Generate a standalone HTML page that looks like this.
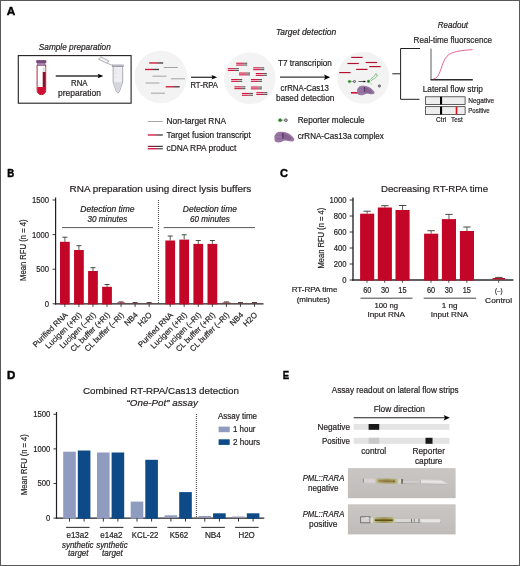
<!DOCTYPE html>
<html lang="en"><head><meta charset="utf-8"><title>Figure</title>
<style>
html,body{margin:0;padding:0;background:#fff;}
body{width:520px;height:566px;overflow:hidden;}
svg{display:block;font-family:"Liberation Sans",sans-serif;}
text{fill:#231f20;stroke:#231f20;stroke-width:0.2px;}
</style></head><body>
<svg width="520" height="566" viewBox="0 0 520 566">
<defs>
<linearGradient id="gT" x1="0" x2="1" y1="0" y2="0"><stop offset="0" stop-color="#d4143f"/><stop offset="0.4" stop-color="#d4143f"/><stop offset="0.7" stop-color="#5a3a42"/><stop offset="1" stop-color="#3c3c3c"/></linearGradient>
<linearGradient id="gC1" x1="0" x2="1" y1="0" y2="0"><stop offset="0" stop-color="#8e1030"/><stop offset="0.45" stop-color="#6a1a2c"/><stop offset="0.7" stop-color="#3a3034"/><stop offset="1" stop-color="#2e2e2e"/></linearGradient>
<linearGradient id="gC2" x1="0" x2="1" y1="0" y2="0"><stop offset="0" stop-color="#d4143f"/><stop offset="0.5" stop-color="#d4143f"/><stop offset="0.75" stop-color="#6a5a5e"/><stop offset="1" stop-color="#4a4a4a"/></linearGradient>
</defs>
<rect x="0" y="0" width="520" height="566" fill="#fff"/>
<rect x="0.5" y="0.5" width="519" height="565" fill="none" stroke="#585858" stroke-width="1"/>

<text x="6.8" y="15.3" font-size="11.6" font-weight="bold" textLength="8.5" lengthAdjust="spacingAndGlyphs" fill="#000" style="fill:#000;stroke:#000;stroke-width:0.4px">A</text>
<text x="7.3" y="177.2" font-size="11.6" font-weight="bold" textLength="6.9" lengthAdjust="spacingAndGlyphs" fill="#000" style="fill:#000;stroke:#000;stroke-width:0.5px">B</text>
<text x="280.1" y="177" font-size="11.6" font-weight="bold" textLength="8" lengthAdjust="spacingAndGlyphs" fill="#000" style="fill:#000;stroke:#000;stroke-width:0.4px">C</text>
<text x="7" y="378.9" font-size="11.6" font-weight="bold" textLength="8.3" lengthAdjust="spacingAndGlyphs" fill="#000" style="fill:#000;stroke:#000;stroke-width:0.45px">D</text>
<text x="282.7" y="379" font-size="11.6" font-weight="bold" textLength="6.4" lengthAdjust="spacingAndGlyphs" fill="#000" style="fill:#000;stroke:#000;stroke-width:0.35px">E</text>
<g id="panelA">
<text x="38.8" y="50.3" font-size="8.4" font-style="italic" textLength="72" lengthAdjust="spacingAndGlyphs" >Sample preparation</text>
<rect x="18.3" y="55.6" width="112.8" height="47.6" fill="#fff" stroke="#231f20" stroke-width="1.1"/>
<g>
<path d="M37.1 65 V90.4 a4.3 4.3 0 0 0 8.6 0 V65 Z" fill="#fff" stroke="#a3122e" stroke-width="0.9"/>
<rect x="42.7" y="67" width="2.7" height="5" fill="#e6dfe4"/>
<path d="M42.7 72 H45.4 V90 H42.7 Z" fill="#8e1028"/>
<path d="M37.4 87 H45.4 V90.4 a4 4 0 0 1 -8 0 Z" fill="#cf1030"/>
<rect x="36.3" y="60.1" width="10" height="3" fill="#7a4a7c"/>
<rect x="37.2" y="63" width="8.1" height="2.6" fill="#8d6292"/>
<rect x="38.2" y="63.6" width="6.1" height="0.9" fill="#c3aecb"/>
</g>
<line x1="55.7" y1="76" x2="99.5" y2="76" stroke="#333" stroke-width="1.3" />
<path d="M103.4 76 L97.6 73.7 L98.8 76 L97.6 78.3 Z" fill="#000"/>
<text x="79.3" y="86" font-size="8.4" text-anchor="middle" textLength="16.6" lengthAdjust="spacingAndGlyphs" >RNA</text>
<text x="79.5" y="95.6" font-size="8.4" text-anchor="middle" textLength="42.8" lengthAdjust="spacingAndGlyphs" >preparation</text>
<g stroke="#8e8e9a" stroke-width="0.7" fill="#ededf2">
<path d="M113.1 66.3 V82 L116.4 91.6 Q117.9 94.4 119.4 91.6 L122.7 82 V66.3 Z"/>
<path d="M113.6 82.3 L116.6 91.3 Q117.9 93.6 119.2 91.3 L122.2 82.3 Z" fill="#d6d6de" stroke="none"/>
<path d="M114.3 70 H116.3 M114.3 73.5 H116.3 M114.3 77 H116.3" stroke="#c4c4cc" stroke-width="0.4" fill="none"/>
<rect x="112.5" y="65" width="10.8" height="1.4" fill="#d2d2da"/>
<path d="M112.6 65.4 L107.3 63.3" fill="none"/>
<path d="M107.3 63.4 L98.5 59.2 L100.9 56.9 L108.7 60.8 Z" fill="#f3f3f6"/>
</g>
<circle cx="160.8" cy="77" r="26.3" fill="#f3f3f3"/>
<rect x="149.2" y="62.3" width="14" height="1.35" fill="url(#gT)" />
<line x1="163.7" y1="67.5" x2="177.7" y2="67.5" stroke="#9a9a9a" stroke-width="0.9" />
<rect x="145" y="68.8" width="14" height="1.35" fill="url(#gT)" />
<line x1="152.5" y1="76.2" x2="166.5" y2="76.2" stroke="#9a9a9a" stroke-width="0.9" />
<line x1="171" y1="78.8" x2="185" y2="78.8" stroke="#9a9a9a" stroke-width="0.9" />
<line x1="145.5" y1="83" x2="159.5" y2="83" stroke="#9a9a9a" stroke-width="0.9" />
<rect x="165.7" y="86.1" width="14" height="1.35" fill="url(#gT)" />
<line x1="151" y1="93.2" x2="165" y2="93.2" stroke="#9a9a9a" stroke-width="0.9" />
<line x1="191" y1="77.3" x2="213.5" y2="77.3" stroke="#333" stroke-width="1.3" />
<path d="M217.2 77.3 L211.4 75 L212.6 77.3 L211.4 79.6 Z" fill="#000"/>
<text x="204.2" y="88.3" font-size="8.4" text-anchor="middle" textLength="27.5" lengthAdjust="spacingAndGlyphs" >RT-RPA</text>
<line x1="147.8" y1="121.5" x2="162.8" y2="121.5" stroke="#9a9a9a" stroke-width="0.9" />
<rect x="147.8" y="134.3" width="15" height="1.35" fill="url(#gT)" />
<rect x="147.8" y="145.8" width="15" height="1.15" fill="url(#gC1)" />
<rect x="147.8" y="148.05" width="15" height="1.35" fill="url(#gC2)" />
<text x="166.5" y="124.4" font-size="8.4" textLength="59.5" lengthAdjust="spacingAndGlyphs" >Non-target RNA</text>
<text x="166.5" y="137.6" font-size="8.4" textLength="84.3" lengthAdjust="spacingAndGlyphs" >Target fusion transcript</text>
<text x="166.5" y="150.7" font-size="8.4" textLength="69.8" lengthAdjust="spacingAndGlyphs" >cDNA RPA product</text>
<circle cx="249.8" cy="78.3" r="25.8" fill="#f3f3f3"/>
<rect x="236.2" y="62.7" width="11" height="1.1" fill="url(#gC2)" />
<rect x="236.2" y="64.5" width="11" height="1.1" fill="url(#gC2)" />
<rect x="227.8" y="68.1" width="11" height="1.1" fill="url(#gC2)" />
<rect x="227.8" y="69.9" width="11" height="1.1" fill="url(#gC2)" />
<rect x="253.2" y="67.3" width="11" height="1.1" fill="url(#gC2)" />
<rect x="253.2" y="69.1" width="11" height="1.1" fill="url(#gC2)" />
<rect x="239" y="72.5" width="11" height="1.1" fill="url(#gC2)" />
<rect x="239" y="74.3" width="11" height="1.1" fill="url(#gC2)" />
<rect x="255.8" y="73.0" width="11" height="1.1" fill="url(#gC2)" />
<rect x="255.8" y="74.8" width="11" height="1.1" fill="url(#gC2)" />
<rect x="231.2" y="79.0" width="11" height="1.1" fill="url(#gC2)" />
<rect x="231.2" y="80.8" width="11" height="1.1" fill="url(#gC2)" />
<rect x="250.9" y="79.0" width="11" height="1.1" fill="url(#gC2)" />
<rect x="250.9" y="80.8" width="11" height="1.1" fill="url(#gC2)" />
<rect x="234.4" y="86.3" width="11" height="1.1" fill="url(#gC2)" />
<rect x="234.4" y="88.1" width="11" height="1.1" fill="url(#gC2)" />
<rect x="250.9" y="86.5" width="11" height="1.1" fill="url(#gC2)" />
<rect x="250.9" y="88.3" width="11" height="1.1" fill="url(#gC2)" />
<rect x="241.9" y="92.9" width="11" height="1.1" fill="url(#gC2)" />
<rect x="241.9" y="94.7" width="11" height="1.1" fill="url(#gC2)" />
<rect x="256.3" y="92.1" width="11" height="1.1" fill="url(#gC2)" />
<rect x="256.3" y="93.9" width="11" height="1.1" fill="url(#gC2)" />
<text x="275.9" y="35.3" font-size="8.4" font-style="italic" textLength="60.3" lengthAdjust="spacingAndGlyphs" >Target detection</text>
<text x="304.9" y="66.1" font-size="8.4" text-anchor="middle" textLength="53.7" lengthAdjust="spacingAndGlyphs" >T7 transcripion</text>
<line x1="280" y1="77.2" x2="326" y2="77.2" stroke="#333" stroke-width="1.3" />
<path d="M330.2 77.2 L323.9 74.5 L325.3 77.2 L323.9 79.9 Z" fill="#000"/>
<text x="304.8" y="91.2" font-size="8.4" text-anchor="middle" textLength="48.4" lengthAdjust="spacingAndGlyphs" >crRNA-Cas13</text>
<text x="305.2" y="100.7" font-size="8.4" text-anchor="middle" textLength="58.3" lengthAdjust="spacingAndGlyphs" >based detection</text>
<circle cx="363.3" cy="77.7" r="26" fill="#f3f3f3"/>
<line x1="351.2" y1="57.4" x2="362.59999999999997" y2="57.4" stroke="#b3102f" stroke-width="1.15" />
<line x1="347.4" y1="63.5" x2="358.79999999999995" y2="63.5" stroke="#b3102f" stroke-width="1.15" />
<line x1="365.7" y1="62.5" x2="377.09999999999997" y2="62.5" stroke="#b3102f" stroke-width="1.15" />
<line x1="369.2" y1="66.6" x2="380.59999999999997" y2="66.6" stroke="#b3102f" stroke-width="1.15" />
<line x1="356.1" y1="69.4" x2="367.5" y2="69.4" stroke="#b3102f" stroke-width="1.15" />
<line x1="339.2" y1="72.6" x2="350.59999999999997" y2="72.6" stroke="#b3102f" stroke-width="1.15" />
<line x1="349.5" y1="81.5" x2="354.5" y2="81.5" stroke="#555" stroke-width="0.5" />
<circle cx="349.5" cy="81.5" r="1.305" fill="#2c762c" stroke="#5cb552" stroke-width="0.5"/>
<circle cx="354.5" cy="81.5" r="1.08" fill="#c9c9c9" stroke="#3c3c3c" stroke-width="0.75"/>
<line x1="358.5" y1="81.5" x2="364.5" y2="81.5" stroke="#231f20" stroke-width="0.7" />
<path d="M366 81.5 L363.6 80.4 L363.6 82.6 Z" fill="#000"/>
<circle cx="368.5" cy="81.3" r="1.35" fill="#2c762c" stroke="#5cb552" stroke-width="0.5"/>
<path d="M370.3 79.7 C371.5 77.6 372.9 77.9 374 76.3 C375 75 375.5 74.6 375.9 73.5 L377.5 76 M370.9 81 C372.5 78.9 374.1 79.5 375.3 77.7 C376.1 76.5 376.8 76.8 377.5 76 M370.4 83 L371.6 84.2" fill="none" stroke="#3c9a3c" stroke-width="0.6"/>
<circle cx="379.4" cy="86" r="1.15" fill="#9a9a9a" stroke="#4c4c4c" stroke-width="0.7"/>
<line x1="350.9" y1="92.8" x2="361" y2="92.8" stroke="#d0103a" stroke-width="1.6" />
<g transform="translate(357 85.8) scale(0.88)"><path d="M0 5.4 C0.3 2.5 2.8 0 5.2 0 C7 0 8.5 0.1 9.8 0.2 C12 0.6 13.5 1.2 14.5 1.9 C16.5 3.2 18 4.6 18.5 5.4 C19.6 6.6 20.2 7.3 20 7.7 C19.8 9 18.9 9.6 17.9 9.7 C15 9.9 13 8.8 11 8.9 C9 9 8 10.4 6.4 10.6 C4.5 10.8 3 10.8 1.8 10.3 C0.6 9.6 0 8 0.3 7.7 Z" fill="#9977a5"/><path d="M7.2 1.6 C10 1.2 13.5 2.6 16.5 5.6 C17.6 7 17 8.2 15.4 8.4 C12.5 8.2 10 7.4 8.4 7.6 C7.4 5.6 7.6 3.4 7.2 1.6 Z" fill="#86628f"/><path d="M8.4 1.4 C8.9 3.4 8.7 5.2 8.3 6.8" fill="none" stroke="#4e2d5e" stroke-width="1.1"/><path d="M2.2 4.2 C4.4 2.8 6.6 3 8 4.2 M2.4 7.4 C4.5 6.6 6.8 6.8 8.2 7.6" fill="none" stroke="#7a5787" stroke-width="0.5"/></g>
<line x1="280.1" y1="120.2" x2="285.90000000000003" y2="120.2" stroke="#555" stroke-width="0.5" />
<circle cx="280.1" cy="120.2" r="1.6674999999999998" fill="#2c762c" stroke="#5cb552" stroke-width="0.5"/>
<circle cx="285.90000000000003" cy="120.2" r="1.38" fill="#c9c9c9" stroke="#3c3c3c" stroke-width="0.75"/>
<text x="297.7" y="122.6" font-size="8.4" textLength="66.9" lengthAdjust="spacingAndGlyphs" >Reporter molecule</text>
<g transform="translate(274.3 131.7) scale(1)"><path d="M0 5.4 C0.3 2.5 2.8 0 5.2 0 C7 0 8.5 0.1 9.8 0.2 C12 0.6 13.5 1.2 14.5 1.9 C16.5 3.2 18 4.6 18.5 5.4 C19.6 6.6 20.2 7.3 20 7.7 C19.8 9 18.9 9.6 17.9 9.7 C15 9.9 13 8.8 11 8.9 C9 9 8 10.4 6.4 10.6 C4.5 10.8 3 10.8 1.8 10.3 C0.6 9.6 0 8 0.3 7.7 Z" fill="#9977a5"/><path d="M7.2 1.6 C10 1.2 13.5 2.6 16.5 5.6 C17.6 7 17 8.2 15.4 8.4 C12.5 8.2 10 7.4 8.4 7.6 C7.4 5.6 7.6 3.4 7.2 1.6 Z" fill="#86628f"/><path d="M8.4 1.4 C8.9 3.4 8.7 5.2 8.3 6.8" fill="none" stroke="#4e2d5e" stroke-width="1.1"/><path d="M2.2 4.2 C4.4 2.8 6.6 3 8 4.2 M2.4 7.4 C4.5 6.6 6.8 6.8 8.2 7.6" fill="none" stroke="#7a5787" stroke-width="0.5"/></g>
<text x="297.7" y="139.4" font-size="8.4" textLength="86" lengthAdjust="spacingAndGlyphs" >crRNA-Cas13a complex</text>
<text x="437.8" y="28.1" font-size="8.4" font-style="italic" textLength="30.3" lengthAdjust="spacingAndGlyphs" >Readout</text>
<text x="413.6" y="43.2" font-size="8.6" textLength="78.4" lengthAdjust="spacingAndGlyphs" >Real-time fluorscence</text>
<path d="M392.3 73.8 H400.6 M420 48.5 H400.6 V99.3 H419.5" fill="none" stroke="#231f20" stroke-width="1"/>
<line x1="431" y1="48.6" x2="431" y2="80" stroke="#333" stroke-width="0.8" />
<line x1="430.6" y1="79.7" x2="472.8" y2="79.7" stroke="#2a2a2a" stroke-width="1.6" />
<path d="M433 79.2 C441 78.6 441 62 447 56.2 C452 51 462 50.6 472.6 49.6" fill="none" stroke="#dc3f72" stroke-width="0.8"/>
<text x="422.7" y="91.9" font-size="8.6" textLength="60.2" lengthAdjust="spacingAndGlyphs" >Lateral flow strip</text>
<rect x="425.6" y="96.8" width="39.5" height="7.7" fill="#eeeeee" stroke="#231f20" stroke-width="0.7"/>
<rect x="440" y="96.8" width="2.1" height="7.7" fill="#000" />
<rect x="425.6" y="106.7" width="39.5" height="7.7" fill="#eeeeee" stroke="#231f20" stroke-width="0.7"/>
<rect x="440" y="106.7" width="2.1" height="7.7" fill="#000" />
<rect x="455.7" y="106.7" width="1.7" height="7.7" fill="#e0141e" />
<text x="468.2" y="102.7" font-size="7.6" textLength="26" lengthAdjust="spacingAndGlyphs" >Negative</text>
<text x="468.2" y="112.5" font-size="7.6" textLength="21.6" lengthAdjust="spacingAndGlyphs" >Positive</text>
<text x="436.1" y="121.8" font-size="7.6" textLength="10.2" lengthAdjust="spacingAndGlyphs" >Ctrl</text>
<text x="451" y="121.8" font-size="7.6" textLength="11.7" lengthAdjust="spacingAndGlyphs" >Test</text>
</g>
<g id="panelB">
<text x="69.6" y="191.6" font-size="9.8" textLength="181.6" lengthAdjust="spacingAndGlyphs" >RNA preparation using direct lysis buffers</text>
<text x="0" y="0" font-size="9.3" text-anchor="middle" textLength="61.5" lengthAdjust="spacingAndGlyphs" transform="translate(25.8 250.2) rotate(-90)">Mean RFU (n = 4)</text>
<line x1="55.6" y1="197.5" x2="55.6" y2="304.40000000000003" stroke="#231f20" stroke-width="1.2" />
<line x1="55" y1="303.8" x2="263.5" y2="303.8" stroke="#231f20" stroke-width="1.2" />
<line x1="52.6" y1="303.8" x2="55.6" y2="303.8" stroke="#231f20" stroke-width="0.9" />
<text x="49" y="306.7" font-size="8.6" text-anchor="end" textLength="4.28" lengthAdjust="spacingAndGlyphs" >0</text>
<line x1="52.6" y1="269.2" x2="55.6" y2="269.2" stroke="#231f20" stroke-width="0.9" />
<text x="49" y="272.09999999999997" font-size="8.6" text-anchor="end" textLength="12.84" lengthAdjust="spacingAndGlyphs" >500</text>
<line x1="52.6" y1="234.60000000000002" x2="55.6" y2="234.60000000000002" stroke="#231f20" stroke-width="0.9" />
<text x="49" y="237.50000000000003" font-size="8.6" text-anchor="end" textLength="17.12" lengthAdjust="spacingAndGlyphs" >1000</text>
<line x1="52.6" y1="200.0" x2="55.6" y2="200.0" stroke="#231f20" stroke-width="0.9" />
<text x="49" y="202.9" font-size="8.6" text-anchor="end" textLength="17.12" lengthAdjust="spacingAndGlyphs" >1500</text>
<text x="107.4" y="212.4" font-size="8.2" text-anchor="middle" font-style="italic" textLength="54.2" lengthAdjust="spacingAndGlyphs" >Detection time</text>
<text x="107.4" y="221.8" font-size="8.2" text-anchor="middle" font-style="italic" textLength="39.6" lengthAdjust="spacingAndGlyphs" >30 minutes</text>
<text x="209.9" y="212.4" font-size="8.2" text-anchor="middle" font-style="italic" textLength="54.2" lengthAdjust="spacingAndGlyphs" >Detection time</text>
<text x="209.9" y="221.8" font-size="8.2" text-anchor="middle" font-style="italic" textLength="39.6" lengthAdjust="spacingAndGlyphs" >60 minutes</text>
<line x1="62" y1="227.6" x2="153" y2="227.6" stroke="#444" stroke-width="0.9" />
<line x1="163.7" y1="227.6" x2="255" y2="227.6" stroke="#444" stroke-width="0.9" />
<line x1="158.5" y1="200.1" x2="158.5" y2="303.8" stroke="#4a4a4a" stroke-width="1.1" stroke-dasharray="0.9 1.1"/>
<rect x="60" y="241.8" width="9.75" height="62.60000000000002" fill="#c30527" />
<line x1="64.875" y1="237.2" x2="64.875" y2="241.8" stroke="#33382c" stroke-width="0.8" />
<line x1="62.375" y1="237.2" x2="67.375" y2="237.2" stroke="#33382c" stroke-width="0.9" />
<line x1="64.85" y1="303.8" x2="64.85" y2="307.0" stroke="#231f20" stroke-width="0.8" />
<text x="0" y="0" font-size="7.9" text-anchor="end" transform="translate(68.15 315.50) rotate(-45)">Purified RNA</text>
<rect x="74.05" y="250" width="9.75" height="54.400000000000034" fill="#c30527" />
<line x1="78.925" y1="245.7" x2="78.925" y2="250" stroke="#33382c" stroke-width="0.8" />
<line x1="76.425" y1="245.7" x2="81.425" y2="245.7" stroke="#33382c" stroke-width="0.9" />
<line x1="78.89999999999999" y1="303.8" x2="78.89999999999999" y2="307.0" stroke="#231f20" stroke-width="0.8" />
<text x="0" y="0" font-size="7.9" text-anchor="end" transform="translate(82.20 315.50) rotate(-45)">Lucigen (+RI)</text>
<rect x="88.1" y="271" width="9.75" height="33.400000000000034" fill="#c30527" />
<line x1="92.975" y1="267.7" x2="92.975" y2="271" stroke="#33382c" stroke-width="0.8" />
<line x1="90.475" y1="267.7" x2="95.475" y2="267.7" stroke="#33382c" stroke-width="0.9" />
<line x1="92.94999999999999" y1="303.8" x2="92.94999999999999" y2="307.0" stroke="#231f20" stroke-width="0.8" />
<text x="0" y="0" font-size="7.9" text-anchor="end" transform="translate(96.25 315.50) rotate(-45)">Lucigen (–RI)</text>
<rect x="102.15" y="286.8" width="9.75" height="17.600000000000023" fill="#c30527" />
<line x1="107.025" y1="284.5" x2="107.025" y2="286.8" stroke="#33382c" stroke-width="0.8" />
<line x1="104.525" y1="284.5" x2="109.525" y2="284.5" stroke="#33382c" stroke-width="0.9" />
<line x1="107.0" y1="303.8" x2="107.0" y2="307.0" stroke="#231f20" stroke-width="0.8" />
<text x="0" y="0" font-size="7.9" text-anchor="end" transform="translate(110.30 315.50) rotate(-45)">CL buffer (+RI)</text>
<rect x="117.0" y="302.5" width="8.15" height="0.6999999999999886" fill="#c30527" />
<line x1="121.075" y1="301.9" x2="121.075" y2="302.5" stroke="#33382c" stroke-width="0.8" />
<line x1="118.575" y1="301.9" x2="123.575" y2="301.9" stroke="#33382c" stroke-width="0.9" />
<line x1="121.05" y1="303.8" x2="121.05" y2="307.0" stroke="#231f20" stroke-width="0.8" />
<text x="0" y="0" font-size="7.9" text-anchor="end" transform="translate(124.35 315.50) rotate(-45)">CL buffer (–RI)</text>
<rect x="131.05" y="303" width="8.15" height="0.19999999999998863" fill="#c30527" />
<line x1="135.125" y1="302.5" x2="135.125" y2="303" stroke="#33382c" stroke-width="0.8" />
<line x1="132.625" y1="302.5" x2="137.625" y2="302.5" stroke="#33382c" stroke-width="0.9" />
<line x1="135.1" y1="303.8" x2="135.1" y2="307.0" stroke="#231f20" stroke-width="0.8" />
<text x="0" y="0" font-size="7.9" text-anchor="end" transform="translate(138.40 315.50) rotate(-45)">NB4</text>
<rect x="145.10000000000002" y="303" width="8.15" height="0.19999999999998863" fill="#c30527" />
<line x1="149.175" y1="302.5" x2="149.175" y2="303" stroke="#33382c" stroke-width="0.8" />
<line x1="146.675" y1="302.5" x2="151.675" y2="302.5" stroke="#33382c" stroke-width="0.9" />
<line x1="149.15" y1="303.8" x2="149.15" y2="307.0" stroke="#231f20" stroke-width="0.8" />
<text x="0" y="0" font-size="7.9" text-anchor="end" transform="translate(152.45 315.50) rotate(-45)">H2O</text>
<rect x="165.35" y="240.5" width="9.75" height="63.900000000000034" fill="#c30527" />
<line x1="170.225" y1="236" x2="170.225" y2="240.5" stroke="#33382c" stroke-width="0.8" />
<line x1="167.725" y1="236" x2="172.725" y2="236" stroke="#33382c" stroke-width="0.9" />
<line x1="170.2" y1="303.8" x2="170.2" y2="307.0" stroke="#231f20" stroke-width="0.8" />
<text x="0" y="0" font-size="7.9" text-anchor="end" transform="translate(173.50 315.50) rotate(-45)">Purified RNA</text>
<rect x="179.3" y="239.6" width="9.75" height="64.80000000000004" fill="#c30527" />
<line x1="184.175" y1="234.8" x2="184.175" y2="239.6" stroke="#33382c" stroke-width="0.8" />
<line x1="181.675" y1="234.8" x2="186.675" y2="234.8" stroke="#33382c" stroke-width="0.9" />
<line x1="184.15" y1="303.8" x2="184.15" y2="307.0" stroke="#231f20" stroke-width="0.8" />
<text x="0" y="0" font-size="7.9" text-anchor="end" transform="translate(187.45 315.50) rotate(-45)">Lucigen (+RI)</text>
<rect x="193.4" y="243.9" width="9.75" height="60.50000000000003" fill="#c30527" />
<line x1="198.275" y1="240.5" x2="198.275" y2="243.9" stroke="#33382c" stroke-width="0.8" />
<line x1="195.775" y1="240.5" x2="200.775" y2="240.5" stroke="#33382c" stroke-width="0.9" />
<line x1="198.25" y1="303.8" x2="198.25" y2="307.0" stroke="#231f20" stroke-width="0.8" />
<text x="0" y="0" font-size="7.9" text-anchor="end" transform="translate(201.55 315.50) rotate(-45)">Lucigen (–RI)</text>
<rect x="207.5" y="243.9" width="9.75" height="60.50000000000003" fill="#c30527" />
<line x1="212.375" y1="240.5" x2="212.375" y2="243.9" stroke="#33382c" stroke-width="0.8" />
<line x1="209.875" y1="240.5" x2="214.875" y2="240.5" stroke="#33382c" stroke-width="0.9" />
<line x1="212.35" y1="303.8" x2="212.35" y2="307.0" stroke="#231f20" stroke-width="0.8" />
<text x="0" y="0" font-size="7.9" text-anchor="end" transform="translate(215.65 315.50) rotate(-45)">CL buffer (+RI)</text>
<rect x="222.35000000000002" y="302.5" width="8.15" height="0.6999999999999886" fill="#c30527" />
<line x1="226.425" y1="301.9" x2="226.425" y2="302.5" stroke="#33382c" stroke-width="0.8" />
<line x1="223.925" y1="301.9" x2="228.925" y2="301.9" stroke="#33382c" stroke-width="0.9" />
<line x1="226.4" y1="303.8" x2="226.4" y2="307.0" stroke="#231f20" stroke-width="0.8" />
<text x="0" y="0" font-size="7.9" text-anchor="end" transform="translate(229.70 315.50) rotate(-45)">CL buffer (–RI)</text>
<rect x="236.4" y="303" width="8.15" height="0.19999999999998863" fill="#c30527" />
<line x1="240.475" y1="302.5" x2="240.475" y2="303" stroke="#33382c" stroke-width="0.8" />
<line x1="237.975" y1="302.5" x2="242.975" y2="302.5" stroke="#33382c" stroke-width="0.9" />
<line x1="240.45" y1="303.8" x2="240.45" y2="307.0" stroke="#231f20" stroke-width="0.8" />
<text x="0" y="0" font-size="7.9" text-anchor="end" transform="translate(243.75 315.50) rotate(-45)">NB4</text>
<rect x="250.45000000000002" y="303" width="8.15" height="0.19999999999998863" fill="#c30527" />
<line x1="254.525" y1="302.5" x2="254.525" y2="303" stroke="#33382c" stroke-width="0.8" />
<line x1="252.025" y1="302.5" x2="257.025" y2="302.5" stroke="#33382c" stroke-width="0.9" />
<line x1="254.5" y1="303.8" x2="254.5" y2="307.0" stroke="#231f20" stroke-width="0.8" />
<text x="0" y="0" font-size="7.9" text-anchor="end" transform="translate(257.80 315.50) rotate(-45)">H2O</text>
</g>
<g id="panelC">
<text x="380.9" y="192" font-size="9.8" textLength="107.2" lengthAdjust="spacingAndGlyphs" >Decreasing RT-RPA time</text>
<text x="0" y="0" font-size="9.3" text-anchor="middle" textLength="60.8" lengthAdjust="spacingAndGlyphs" transform="translate(323.5 238.2) rotate(-90)">Mean RFU (n = 4)</text>
<line x1="353" y1="197.5" x2="353" y2="280.7" stroke="#2b2b2b" stroke-width="1.4" />
<line x1="352.3" y1="280" x2="513.4" y2="280" stroke="#2b2b2b" stroke-width="1.4" />
<line x1="349.6" y1="280.0" x2="353" y2="280.0" stroke="#231f20" stroke-width="0.9" />
<text x="346.6" y="282.9" font-size="8.6" text-anchor="end" textLength="4.25" lengthAdjust="spacingAndGlyphs" >0</text>
<line x1="349.6" y1="264.0" x2="353" y2="264.0" stroke="#231f20" stroke-width="0.9" />
<text x="346.6" y="266.9" font-size="8.6" text-anchor="end" textLength="12.75" lengthAdjust="spacingAndGlyphs" >200</text>
<line x1="349.6" y1="248.0" x2="353" y2="248.0" stroke="#231f20" stroke-width="0.9" />
<text x="346.6" y="250.9" font-size="8.6" text-anchor="end" textLength="12.75" lengthAdjust="spacingAndGlyphs" >400</text>
<line x1="349.6" y1="232.0" x2="353" y2="232.0" stroke="#231f20" stroke-width="0.9" />
<text x="346.6" y="234.9" font-size="8.6" text-anchor="end" textLength="12.75" lengthAdjust="spacingAndGlyphs" >600</text>
<line x1="349.6" y1="216.0" x2="353" y2="216.0" stroke="#231f20" stroke-width="0.9" />
<text x="346.6" y="218.9" font-size="8.6" text-anchor="end" textLength="12.75" lengthAdjust="spacingAndGlyphs" >800</text>
<line x1="349.6" y1="200.0" x2="353" y2="200.0" stroke="#231f20" stroke-width="0.9" />
<text x="346.6" y="202.9" font-size="8.6" text-anchor="end" textLength="17.0" lengthAdjust="spacingAndGlyphs" >1000</text>
<rect x="360.1" y="213.7" width="14.1" height="66.90000000000003" fill="#c30527" />
<line x1="367.15000000000003" y1="211.2" x2="367.15000000000003" y2="213.7" stroke="#33382c" stroke-width="0.8" />
<line x1="363.45000000000005" y1="211.2" x2="370.85" y2="211.2" stroke="#33382c" stroke-width="0.9" />
<line x1="367.0" y1="280.6" x2="367.0" y2="282.8" stroke="#231f20" stroke-width="0.8" />
<rect x="377.8" y="207.5" width="14.1" height="73.10000000000002" fill="#c30527" />
<line x1="384.85" y1="205.7" x2="384.85" y2="207.5" stroke="#33382c" stroke-width="0.8" />
<line x1="381.15000000000003" y1="205.7" x2="388.55" y2="205.7" stroke="#33382c" stroke-width="0.9" />
<line x1="384.7" y1="280.6" x2="384.7" y2="282.8" stroke="#231f20" stroke-width="0.8" />
<rect x="395.5" y="210" width="14.1" height="70.60000000000002" fill="#c30527" />
<line x1="402.55" y1="205.5" x2="402.55" y2="210" stroke="#33382c" stroke-width="0.8" />
<line x1="398.85" y1="205.5" x2="406.25" y2="205.5" stroke="#33382c" stroke-width="0.9" />
<line x1="402.4" y1="280.6" x2="402.4" y2="282.8" stroke="#231f20" stroke-width="0.8" />
<rect x="424.1" y="233.7" width="14.1" height="46.900000000000034" fill="#c30527" />
<line x1="431.15000000000003" y1="230.7" x2="431.15000000000003" y2="233.7" stroke="#33382c" stroke-width="0.8" />
<line x1="427.45000000000005" y1="230.7" x2="434.85" y2="230.7" stroke="#33382c" stroke-width="0.9" />
<line x1="431.0" y1="280.6" x2="431.0" y2="282.8" stroke="#231f20" stroke-width="0.8" />
<rect x="441.9" y="219.1" width="14.1" height="61.50000000000003" fill="#c30527" />
<line x1="448.95" y1="214.4" x2="448.95" y2="219.1" stroke="#33382c" stroke-width="0.8" />
<line x1="445.25" y1="214.4" x2="452.65" y2="214.4" stroke="#33382c" stroke-width="0.9" />
<line x1="448.79999999999995" y1="280.6" x2="448.79999999999995" y2="282.8" stroke="#231f20" stroke-width="0.8" />
<rect x="459.9" y="231" width="14.1" height="49.60000000000002" fill="#c30527" />
<line x1="466.95" y1="227" x2="466.95" y2="231" stroke="#33382c" stroke-width="0.8" />
<line x1="463.25" y1="227" x2="470.65" y2="227" stroke="#33382c" stroke-width="0.9" />
<line x1="466.79999999999995" y1="280.6" x2="466.79999999999995" y2="282.8" stroke="#231f20" stroke-width="0.8" />
<rect x="492.6" y="278" width="12.5" height="1.3999999999999773" fill="#c30527" />
<line x1="498.85" y1="277.4" x2="498.85" y2="278" stroke="#33382c" stroke-width="0.8" />
<line x1="495.15000000000003" y1="277.4" x2="502.55" y2="277.4" stroke="#33382c" stroke-width="0.9" />
<line x1="498.7" y1="280.6" x2="498.7" y2="282.8" stroke="#231f20" stroke-width="0.8" />
<text x="367.3" y="293" font-size="8.2" text-anchor="middle" textLength="8.2" lengthAdjust="spacingAndGlyphs" >60</text>
<text x="385" y="293" font-size="8.2" text-anchor="middle" textLength="8.2" lengthAdjust="spacingAndGlyphs" >30</text>
<text x="402.4" y="293" font-size="8.2" text-anchor="middle" textLength="8.2" lengthAdjust="spacingAndGlyphs" >15</text>
<text x="431" y="293" font-size="8.2" text-anchor="middle" textLength="8.2" lengthAdjust="spacingAndGlyphs" >60</text>
<text x="448.8" y="293" font-size="8.2" text-anchor="middle" textLength="8.2" lengthAdjust="spacingAndGlyphs" >30</text>
<text x="466.8" y="293" font-size="8.2" text-anchor="middle" textLength="8.2" lengthAdjust="spacingAndGlyphs" >15</text>
<text x="498.8" y="292.6" font-size="7.6" text-anchor="middle" textLength="7.5" lengthAdjust="spacingAndGlyphs" >(–)</text>
<text x="498.6" y="302.6" font-size="7.8" text-anchor="middle" textLength="27" lengthAdjust="spacingAndGlyphs" >Control</text>
<text x="291.7" y="292.1" font-size="7.8" textLength="45.8" lengthAdjust="spacingAndGlyphs" >RT-RPA time</text>
<text x="296.7" y="301.6" font-size="7.8" textLength="33.3" lengthAdjust="spacingAndGlyphs" >(minutes)</text>
<line x1="360.5" y1="298.2" x2="412.5" y2="298.2" stroke="#444" stroke-width="1" />
<line x1="423.7" y1="298.2" x2="476.2" y2="298.2" stroke="#444" stroke-width="1" />
<text x="386.3" y="307.7" font-size="7.8" text-anchor="middle" textLength="23.5" lengthAdjust="spacingAndGlyphs" >100 ng</text>
<text x="386.3" y="317.2" font-size="7.8" text-anchor="middle" textLength="37.5" lengthAdjust="spacingAndGlyphs" >Input RNA</text>
<text x="449.6" y="307.7" font-size="7.8" text-anchor="middle" textLength="15.8" lengthAdjust="spacingAndGlyphs" >1 ng</text>
<text x="449.5" y="317.2" font-size="7.8" text-anchor="middle" textLength="37.5" lengthAdjust="spacingAndGlyphs" >Input RNA</text>
</g>
<g id="panelD">
<text x="82.9" y="393.8" font-size="9.7" textLength="156" lengthAdjust="spacingAndGlyphs" >Combined RT-RPA/Cas13 detection</text>
<text x="126.6" y="406" font-size="9.4" font-style="italic" textLength="71.2" lengthAdjust="spacingAndGlyphs" >“One-Pot” assay</text>
<text x="0" y="0" font-size="9.3" text-anchor="middle" textLength="60.8" lengthAdjust="spacingAndGlyphs" transform="translate(27.3 464.6) rotate(-90)">Mean RFU (n = 4)</text>
<line x1="56.5" y1="412" x2="56.5" y2="518.7" stroke="#231f20" stroke-width="1.2" />
<line x1="55.9" y1="518.1" x2="264.3" y2="518.1" stroke="#231f20" stroke-width="1.2" />
<line x1="53.5" y1="518.1" x2="56.5" y2="518.1" stroke="#231f20" stroke-width="0.9" />
<text x="50.3" y="521.0" font-size="8.6" text-anchor="end" textLength="4.28" lengthAdjust="spacingAndGlyphs" >0</text>
<line x1="53.5" y1="483.5" x2="56.5" y2="483.5" stroke="#231f20" stroke-width="0.9" />
<text x="50.3" y="486.4" font-size="8.6" text-anchor="end" textLength="12.84" lengthAdjust="spacingAndGlyphs" >500</text>
<line x1="53.5" y1="448.90000000000003" x2="56.5" y2="448.90000000000003" stroke="#231f20" stroke-width="0.9" />
<text x="50.3" y="451.8" font-size="8.6" text-anchor="end" textLength="17.12" lengthAdjust="spacingAndGlyphs" >1000</text>
<line x1="53.5" y1="414.3" x2="56.5" y2="414.3" stroke="#231f20" stroke-width="0.9" />
<text x="50.3" y="417.2" font-size="8.6" text-anchor="end" textLength="17.12" lengthAdjust="spacingAndGlyphs" >1500</text>
<line x1="196.4" y1="414.1" x2="196.4" y2="518.1" stroke="#4a4a4a" stroke-width="1.1" stroke-dasharray="0.9 1.1"/>
<rect x="63.2" y="451.7" width="12.6" height="67.00000000000003" fill="#909bc0" />
<rect x="77.8" y="450.5" width="12.6" height="68.20000000000002" fill="#0d4a87" />
<line x1="69.5" y1="518.1" x2="69.5" y2="521.6" stroke="#231f20" stroke-width="0.9" />
<line x1="84.1" y1="518.1" x2="84.1" y2="521.6" stroke="#231f20" stroke-width="0.9" />
<line x1="66.0" y1="527.4" x2="89.6" y2="527.4" stroke="#3a3a3a" stroke-width="1.1" />
<text x="77.60000000000001" y="538" font-size="8.2" text-anchor="middle" textLength="22.2" lengthAdjust="spacingAndGlyphs" >e13a2</text>
<rect x="97" y="452.5" width="12.6" height="66.20000000000002" fill="#909bc0" />
<rect x="111.6" y="452.5" width="12.6" height="66.20000000000002" fill="#0d4a87" />
<line x1="103.3" y1="518.1" x2="103.3" y2="521.6" stroke="#231f20" stroke-width="0.9" />
<line x1="117.9" y1="518.1" x2="117.9" y2="521.6" stroke="#231f20" stroke-width="0.9" />
<line x1="99.8" y1="527.4" x2="123.4" y2="527.4" stroke="#3a3a3a" stroke-width="1.1" />
<text x="111.4" y="538" font-size="8.2" text-anchor="middle" textLength="22.2" lengthAdjust="spacingAndGlyphs" >e14a2</text>
<rect x="130.7" y="501.6" width="12.6" height="17.1" fill="#909bc0" />
<rect x="145.29999999999998" y="459.8" width="12.6" height="58.90000000000001" fill="#0d4a87" />
<line x1="137.0" y1="518.1" x2="137.0" y2="521.6" stroke="#231f20" stroke-width="0.9" />
<line x1="151.6" y1="518.1" x2="151.6" y2="521.6" stroke="#231f20" stroke-width="0.9" />
<line x1="133.5" y1="527.4" x2="157.1" y2="527.4" stroke="#3a3a3a" stroke-width="1.1" />
<text x="145.1" y="538" font-size="8.2" text-anchor="middle" textLength="26.5" lengthAdjust="spacingAndGlyphs" >KCL-22</text>
<rect x="164.6" y="515.3" width="12.6" height="2.300000000000068" fill="#909bc0" />
<rect x="179.2" y="492.1" width="12.6" height="26.6" fill="#0d4a87" />
<line x1="170.9" y1="518.1" x2="170.9" y2="521.6" stroke="#231f20" stroke-width="0.9" />
<line x1="185.5" y1="518.1" x2="185.5" y2="521.6" stroke="#231f20" stroke-width="0.9" />
<line x1="167.4" y1="527.4" x2="191.0" y2="527.4" stroke="#3a3a3a" stroke-width="1.1" />
<text x="179.0" y="538" font-size="8.2" text-anchor="middle" textLength="18.5" lengthAdjust="spacingAndGlyphs" >K562</text>
<rect x="198.5" y="516" width="12.6" height="1.6000000000000227" fill="#909bc0" />
<rect x="213.1" y="513.3" width="12.6" height="5.400000000000068" fill="#0d4a87" />
<line x1="204.8" y1="518.1" x2="204.8" y2="521.6" stroke="#231f20" stroke-width="0.9" />
<line x1="219.4" y1="518.1" x2="219.4" y2="521.6" stroke="#231f20" stroke-width="0.9" />
<line x1="201.3" y1="527.4" x2="224.9" y2="527.4" stroke="#3a3a3a" stroke-width="1.1" />
<text x="212.9" y="538" font-size="8.2" text-anchor="middle" textLength="16" lengthAdjust="spacingAndGlyphs" >NB4</text>
<rect x="232.2" y="516.5" width="12.6" height="1.1000000000000227" fill="#909bc0" />
<rect x="246.79999999999998" y="513.3" width="12.6" height="5.400000000000068" fill="#0d4a87" />
<line x1="238.5" y1="518.1" x2="238.5" y2="521.6" stroke="#231f20" stroke-width="0.9" />
<line x1="253.1" y1="518.1" x2="253.1" y2="521.6" stroke="#231f20" stroke-width="0.9" />
<line x1="235.0" y1="527.4" x2="258.59999999999997" y2="527.4" stroke="#3a3a3a" stroke-width="1.1" />
<text x="246.6" y="538" font-size="8.2" text-anchor="middle" textLength="16.3" lengthAdjust="spacingAndGlyphs" >H2O</text>
<text x="77.7" y="547.5" font-size="8.5" text-anchor="middle" font-style="italic" textLength="31.6" lengthAdjust="spacingAndGlyphs" >synthetic</text>
<text x="78.3" y="556.4" font-size="8.5" text-anchor="middle" font-style="italic" textLength="20.6" lengthAdjust="spacingAndGlyphs" >target</text>
<text x="111.9" y="547.5" font-size="8.5" text-anchor="middle" font-style="italic" textLength="31.5" lengthAdjust="spacingAndGlyphs" >synthetic</text>
<text x="112.3" y="556.4" font-size="8.5" text-anchor="middle" font-style="italic" textLength="20.8" lengthAdjust="spacingAndGlyphs" >target</text>
<text x="218" y="419.2" font-size="8.2" textLength="39" lengthAdjust="spacingAndGlyphs" >Assay time</text>
<rect x="218.6" y="426.6" width="11.1" height="5.6" fill="#909bc0" />
<rect x="218.6" y="439.3" width="11.1" height="5.6" fill="#0d4a87" />
<text x="233" y="431.9" font-size="8.2" textLength="22.5" lengthAdjust="spacingAndGlyphs" >1 hour</text>
<text x="233" y="444.8" font-size="8.2" textLength="27" lengthAdjust="spacingAndGlyphs" >2 hours</text>
</g>
<g id="panelE">
<text x="331.7" y="392.6" font-size="8.3" textLength="127" lengthAdjust="spacingAndGlyphs" >Assay readout on lateral flow strips</text>
<text x="373.7" y="412.2" font-size="8.3" textLength="51.3" lengthAdjust="spacingAndGlyphs" >Flow direction</text>
<line x1="353.7" y1="417.7" x2="445.5" y2="417.7" stroke="#231f20" stroke-width="1.1" />
<path d="M449.9 417.7 L443.6 415 L445 417.7 L443.6 420.4 Z" fill="#000"/>
<text x="350" y="429.7" font-size="8.3" text-anchor="end" textLength="32.5" lengthAdjust="spacingAndGlyphs" >Negative</text>
<text x="350" y="443.8" font-size="8.3" text-anchor="end" textLength="28" lengthAdjust="spacingAndGlyphs" >Positive</text>
<rect x="353.7" y="424" width="95.8" height="5.8" fill="#e3e3e3" />
<rect x="368.6" y="424" width="10.6" height="5.8" fill="#1a1a1a" />
<rect x="353.7" y="437.8" width="95.8" height="6" fill="#e3e3e3" />
<rect x="368.6" y="437.8" width="10.6" height="6" fill="#c9c9c9" />
<rect x="425.5" y="437.8" width="7" height="6" fill="#1a1a1a" />
<text x="373.7" y="454.2" font-size="8.3" text-anchor="middle" textLength="25" lengthAdjust="spacingAndGlyphs" >control</text>
<text x="428.7" y="454.3" font-size="8.3" text-anchor="middle" textLength="32.5" lengthAdjust="spacingAndGlyphs" >Reporter</text>
<text x="428.7" y="464" font-size="8.3" text-anchor="middle" textLength="27.5" lengthAdjust="spacingAndGlyphs" >capture</text>
<text x="323.5" y="480.8" font-size="8.2" text-anchor="middle" font-style="italic" textLength="41.7" lengthAdjust="spacingAndGlyphs" >PML::RARA</text>
<text x="323.3" y="490.7" font-size="8.2" text-anchor="middle" textLength="30.5" lengthAdjust="spacingAndGlyphs" >negative</text>
<text x="323.5" y="516.9" font-size="8.2" text-anchor="middle" font-style="italic" textLength="41.7" lengthAdjust="spacingAndGlyphs" >PML::RARA</text>
<text x="323.2" y="526.6" font-size="8.2" text-anchor="middle" textLength="28.4" lengthAdjust="spacingAndGlyphs" >positive</text>
<defs>
<linearGradient id="ol" x1="0" x2="1" y1="0" y2="0">
<stop offset="0" stop-color="#c6c5a6"/><stop offset="0.15" stop-color="#adaa6c"/><stop offset="0.5" stop-color="#9d9152"/><stop offset="0.85" stop-color="#adaa6c"/><stop offset="1" stop-color="#c9cbb4"/>
</linearGradient>
<linearGradient id="pbg" x1="0" x2="0" y1="0" y2="1">
<stop offset="0" stop-color="#c9c6c4"/><stop offset="0.5" stop-color="#c4c1bf"/><stop offset="1" stop-color="#bfbcba"/>
</linearGradient>
<filter id="soft" x="-5%" y="-50%" width="110%" height="200%"><feGaussianBlur stdDeviation="0.55"/></filter>
</defs>
<rect x="347.9" y="468.1" width="107.7" height="30.1" fill="url(#pbg)" />
<g transform="rotate(1.3 405 482)" filter="url(#soft)">
<rect x="362.8" y="479.5" width="13" height="4.1" fill="#dad2d4" />
<rect x="362.8" y="479.5" width="1.1" height="4.1" fill="#8f8a8c" />
<rect x="375.4" y="479.2" width="23.2" height="4.6" fill="url(#ol)" />
<path d="M378.4 481.2 H392.6 L394 480.2 L395 481.5 L394 482.6 L392.6 481.9 H378.4 Z" fill="#7a4f1a"/>
<rect x="398.6" y="479.5" width="3" height="4.1" fill="#d9dcc6" />
<rect x="401.4" y="479.1" width="1.3" height="4.7" fill="#3e3e3c" />
<rect x="402.7" y="481.5" width="17.6" height="1.3" fill="#dededc" />
<rect x="402.7" y="482.7" width="44" height="0.7" fill="#a9a6a4" />
<rect x="419.8" y="480.2" width="1.1" height="2.6" fill="#aeacaa" />
<path d="M420.9 479.6 L441 479.4 L447.4 482.4 L447.4 482.8 H420.9 Z" fill="#e8e6e5"/>
</g>
<rect x="347.9" y="504.3" width="107.7" height="30.1" fill="url(#pbg)" />
<g filter="url(#soft)" transform="translate(0.8 0.2)">
<rect x="359.9" y="516.6" width="9.3" height="6" fill="#d6d2d2" stroke="#5e5c5c" stroke-width="0.8"/>
<rect x="364.5" y="517.3" width="3" height="0.9" fill="#efefef" />
<rect x="369.6" y="517.6" width="3" height="4.8" fill="#dfdbd6" />
<rect x="372.4" y="517" width="21.8" height="5.7" fill="url(#ol)" />
<rect x="374" y="519.2" width="18" height="1.6" fill="#5c5216" />
<rect x="394.2" y="518.8" width="25.6" height="3.2" fill="#d9d8d4" />
<rect x="394.2" y="522" width="46" height="0.8" fill="#9e9b99" />
<rect x="410.2" y="518.6" width="1" height="3.6" fill="#77756f" />
<rect x="413" y="518.6" width="1" height="3.6" fill="#8a8882" />
<rect x="417.6" y="518.6" width="1" height="3.6" fill="#77756f" />
<rect x="419.8" y="519" width="19.6" height="3.4" fill="#e8e6e5" />
</g>
</g>
</svg></body></html>
